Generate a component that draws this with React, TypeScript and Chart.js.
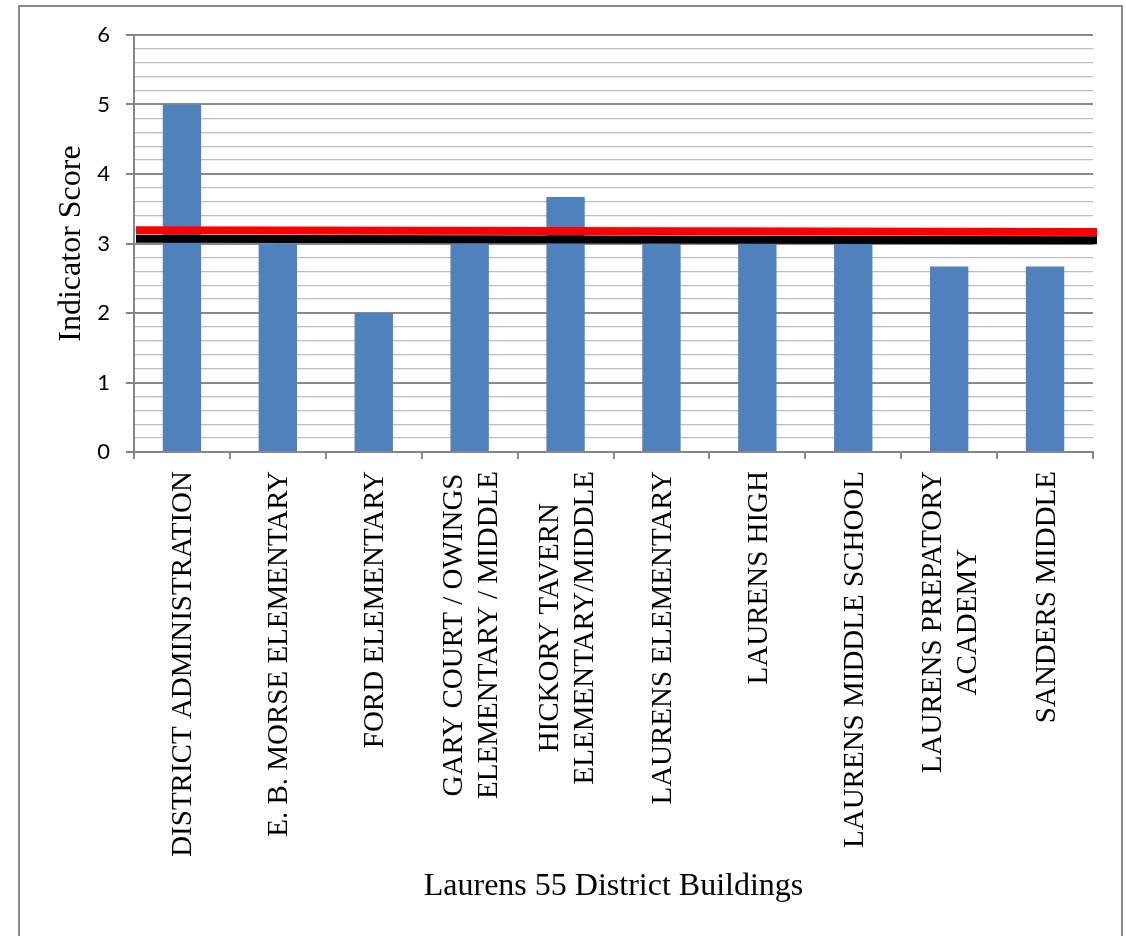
import React, { useEffect, useRef } from "react";
import Chart from "chart.js/auto";

const categories: string[][] = [
  ["DISTRICT ADMINISTRATION"],
  ["E. B. MORSE ELEMENTARY"],
  ["FORD ELEMENTARY"],
  ["GARY COURT / OWINGS", "ELEMENTARY / MIDDLE"],
  ["HICKORY TAVERN", "ELEMENTARY/MIDDLE"],
  ["LAURENS ELEMENTARY"],
  ["LAURENS HIGH"],
  ["LAURENS MIDDLE SCHOOL"],
  ["LAURENS PREPATORY", "ACADEMY"],
  ["SANDERS MIDDLE"],
];

const scores: number[] = [5, 3, 2, 3, 3.67, 3, 3, 3, 2.67, 2.67];

// reference lines: value at the left end and at the right end
const redLine: number[] = [3.19, 3.165];
const blackLine: number[] = [3.07, 3.045];
const lineEnds: number[] = [0, 1];

const yTicks = { min: 0, max: 6, step: 0.2 };

const xAxisTitle = "Laurens 55 District Buildings";
const yAxisTitle = "Indicator Score";

const isInt = (v: number) => Math.abs(v - Math.round(v)) < 1e-6;

const xLabelPlugin = {
  id: "xLabelsCentered",
  afterDraw(chart: any) {
    const xs = chart.scales.x;
    const ctx = chart.ctx;
    ctx.save();
    ctx.font = '29px "Liberation Serif"';
    ctx.fillStyle = "#000000";
    ctx.textAlign = "center";
    ctx.textBaseline = "alphabetic";
    const lh = 35;
    const capH = 19;
    (chart.data.labels as any[]).forEach((lab, i) => {
      const lines: string[] = Array.isArray(lab) ? lab : [String(lab)];
      const maxW = Math.max(...lines.map((l) => ctx.measureText(l).width));
      const cx = xs.getPixelForValue(i);
      const cy = xs.top + 19 + maxW / 2;
      ctx.save();
      ctx.translate(cx, cy);
      ctx.rotate(-Math.PI / 2);
      lines.forEach((l, j) => {
        const off = (j - (lines.length - 1) / 2) * lh;
        ctx.fillText(l, 0, off + capH / 2);
      });
      ctx.restore();
    });
    ctx.restore();
  },
};

export default function App() {
  const ref = useRef<HTMLCanvasElement | null>(null);

  useEffect(() => {
    if (!ref.current) return;
    const chart = new Chart(ref.current, {
      type: "bar",
      data: {
        labels: categories,
        datasets: [
          {
            type: "bar",
            data: scores,
            backgroundColor: "#4F81BD",
            borderWidth: 0,
            barPercentage: 0.4,
            categoryPercentage: 1,
            grouped: false,
            order: 3,
            xAxisID: "x",
            yAxisID: "y",
          } as any,
          {
            type: "line",
            data: lineEnds.map((x, i) => ({ x, y: blackLine[i] })),
            borderColor: "#000000",
            borderWidth: 8,
            pointRadius: 0,
            borderCapStyle: "butt",
            clip: false,
            order: 2,
            xAxisID: "x2",
            yAxisID: "y",
          } as any,
          {
            type: "line",
            data: lineEnds.map((x, i) => ({ x, y: redLine[i] })),
            borderColor: "#FF0000",
            borderWidth: 8,
            pointRadius: 0,
            borderCapStyle: "butt",
            clip: false,
            order: 1,
            xAxisID: "x2",
            yAxisID: "y",
          } as any,
        ],
      },
      options: {
        animation: false,
        responsive: false,
        layout: { padding: { top: 35, right: 33, left: 0, bottom: 0 } },
        plugins: {
          legend: { display: false },
          tooltip: { enabled: false },
        },
        scales: {
          x: {
            type: "category",
            offset: true,
            grid: {
              display: true,
              offset: true,
              drawOnChartArea: false,
              drawTicks: true,
              tickLength: 7,
              color: "#868686",
              lineWidth: 2,
            },
            border: { display: true, color: "#868686", width: 2 },
            ticks: { display: false },
            title: {
              display: true,
              text: xAxisTitle,
              color: "#000000",
              font: { family: '"Liberation Serif"', size: 32 },
              padding: { top: 0, bottom: 30 },
            },
            afterFit(scale: any) {
              scale.height = 484;
            },
          },
          x2: {
            type: "linear",
            axis: "x",
            display: false,
            offset: false,
            grid: { offset: false },
            min: -0.00208,
            max: 0.99584,
          },
          y: {
            type: "linear",
            min: yTicks.min,
            max: yTicks.max,
            ticks: {
              stepSize: yTicks.step,
              autoSkip: false,
              color: "#000000",
              padding: 16,
              font: { family: "Lato", size: 22 },
              callback: (v: any) => (isInt(Number(v)) ? String(Math.round(Number(v))) : ""),
            },
            grid: {
              drawTicks: true,
              tickLength: 8,
              color: (c: any) => (isInt(c.tick.value) ? "#8a8a8a" : "#bdbdbd"),
              lineWidth: (c: any) => (isInt(c.tick.value) ? 2 : 1.3),
              tickColor: (c: any) => (isInt(c.tick.value) ? "#868686" : "rgba(0,0,0,0)"),
              tickWidth: 2,
            },
            border: { display: true, color: "#868686", width: 2 },
            title: {
              display: true,
              text: yAxisTitle,
              color: "#000000",
              font: { family: '"Liberation Serif"', size: 32 },
              padding: { top: 52, bottom: 0 },
            },
            afterFit(scale: any) {
              scale.width = 134;
            },
          },
        },
      },
      plugins: [xLabelPlugin],
    } as any);
    return () => chart.destroy();
  }, []);

  return (
    <div style={{ position: "absolute", left: 0, top: 0, width: 1126, height: 936, overflow: "hidden", background: "#ffffff" }}>
      <div
        style={{
          position: "absolute",
          left: 18,
          top: 5,
          width: 1105,
          height: 1000,
          border: "2px solid #898989",
          boxSizing: "border-box",
        }}
      />
      <canvas ref={ref} width={1126} height={936} style={{ position: "absolute", left: 0, top: 0, display: "block" }} />
    </div>
  );
}
